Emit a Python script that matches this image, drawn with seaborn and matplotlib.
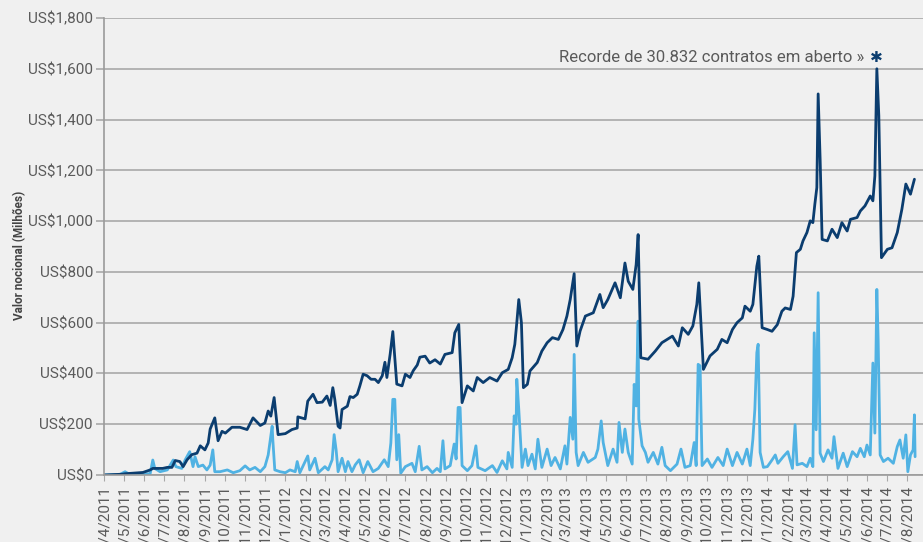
import pandas as pd
import matplotlib.pyplot as plt
import matplotlib.dates as mdates
import matplotlib.ticker as mticker
import seaborn as sns

START = pd.Timestamp('2011-04-01')

# days since 1/4/2011 and notional value (US$ millions)
dark_days = [0, 27, 32, 59, 70, 74, 89, 96, 103, 108,
             115, 120, 126, 133, 141, 146, 153, 158, 161, 168,
             171, 173, 179, 184, 194, 206, 217, 226, 237, 244,
             249, 253, 258, 264, 275, 285, 293, 294, 305, 309,
             317, 323, 331, 338, 343, 347, 350, 355, 358, 361,
             369, 373, 378, 384, 388, 393, 399, 405, 411, 416,
             422, 426, 429, 434, 438, 444, 452, 457, 464, 469,
             475, 479, 487, 494, 502, 510, 517, 528, 532, 538,
             543, 551, 560, 566, 575, 585, 596, 604, 613, 619,
             623, 626, 629, 633, 636, 642, 646, 657, 664, 672,
             680, 689, 696, 702, 707, 713, 717, 722, 730, 742,
             752, 757, 764, 775, 783, 790, 795, 802, 807, 810,
             814, 825, 836, 846, 854, 862, 871, 877, 886, 893,
             899, 902, 909, 919, 930, 937, 945, 953, 960, 968,
             972, 980, 984, 990, 993, 998, 1006, 1013, 1021, 1028,
             1033, 1041, 1045, 1050, 1056, 1060, 1066, 1071, 1075, 1078,
             1081, 1083, 1086, 1089, 1097, 1104, 1112, 1119, 1127, 1132,
             1142, 1147, 1154, 1162, 1166, 1169, 1172, 1175, 1179, 1188,
             1195, 1203, 1210, 1216, 1223, 1229]
dark_values = [0, 3, 5, 10, 20, 26, 26, 30, 30, 57,
               53, 33, 60, 80, 86, 115, 99, 126, 181, 225,
               172, 135, 172, 165, 188, 188, 179, 225, 195, 205,
               252, 232, 305, 159, 163, 179, 185, 229, 221, 291,
               318, 285, 287, 311, 274, 344, 298, 192, 185, 258,
               271, 309, 305, 318, 351, 397, 391, 377, 377, 364,
               391, 444, 384, 477, 565, 358, 351, 397, 384, 411,
               433, 464, 468, 441, 454, 437, 475, 482, 560, 593,
               285, 351, 331, 384, 364, 384, 370, 403, 416, 462,
               515, 600, 691, 600, 344, 357, 410, 443, 488, 521,
               541, 534, 573, 626, 691, 793, 508, 567, 626, 639,
               711, 659, 691, 757, 698, 835, 763, 731, 829, 947,
               462, 456, 488, 521, 534, 547, 508, 580, 554, 587,
               672, 757, 416, 469, 495, 534, 521, 573, 600, 619,
               665, 645, 672, 822, 862, 580, 573, 566, 592, 645,
               658, 652, 704, 876, 889, 922, 955, 1001, 994, 1067,
               1132, 1501, 1244, 928, 922, 968, 935, 994, 961, 1007,
               1014, 1040, 1060, 1099, 1080, 1178, 1600, 1415, 856, 889,
               895, 955, 1047, 1146, 1106, 1165]

light_days = [0, 24, 32, 39, 70, 74, 77, 85, 96, 105,
              109, 118, 123, 130, 135, 138, 143, 150, 156, 161,
              165, 168, 176, 187, 196, 206, 214, 221, 229, 237,
              244, 249, 255, 256, 259, 267, 275, 282, 290, 293,
              297, 309, 312, 320, 325, 335, 340, 346, 349, 352,
              355, 361, 366, 370, 376, 381, 387, 393, 400, 408,
              416, 425, 431, 435, 438, 441, 444, 447, 450, 457,
              467, 472, 478, 482, 490, 498, 505, 510, 514, 517,
              525, 531, 534, 537, 540, 543, 551, 558, 564, 567,
              578, 589, 596, 604, 611, 613, 619, 622, 625, 626,
              629, 634, 639, 643, 649, 654, 658, 664, 672, 678,
              684, 692, 699, 702, 707, 711, 713, 716, 719, 727,
              734, 745, 749, 754, 757, 764, 772, 778, 781, 786,
              790, 795, 801, 804, 807, 810, 811, 816, 821, 825,
              833, 840, 846, 851, 859, 869, 875, 881, 889, 895,
              898, 901, 904, 907, 915, 922, 931, 939, 945, 953,
              960, 968, 975, 980, 984, 987, 990, 992, 995, 1000,
              1006, 1013, 1018, 1022, 1030, 1037, 1044, 1048, 1051, 1059,
              1066, 1071, 1075, 1077, 1080, 1083, 1086, 1091, 1098, 1104,
              1107, 1113, 1121, 1127, 1135, 1142, 1147, 1153, 1157, 1162,
              1166, 1169, 1172, 1174, 1177, 1182, 1189, 1197, 1203, 1207,
              1212, 1216, 1219, 1223, 1227, 1229, 1230]
light_values = [0, 2, 13, 2, 5, 59, 26, 13, 20, 59,
                33, 26, 59, 92, 33, 72, 33, 39, 20, 39,
                99, 13, 13, 20, 9, 17, 36, 20, 30, 13,
                33, 79, 192, 139, 20, 13, 9, 20, 13, 53,
                9, 75, 20, 66, 9, 33, 20, 60, 159, 99,
                13, 66, 13, 53, 13, 40, 60, 9, 53, 13,
                26, 60, 33, 126, 298, 298, 60, 159, 7, 33,
                46, 13, 113, 20, 33, 9, 26, 13, 135, 24,
                37, 122, 63, 266, 266, 37, 17, 37, 115, 30,
                17, 37, 10, 56, 24, 89, 30, 233, 200, 377,
                259, 30, 102, 37, 82, 24, 141, 30, 102, 37,
                69, 24, 115, 43, 227, 141, 475, 89, 37, 89,
                50, 69, 102, 213, 128, 37, 102, 50, 207, 89,
                181, 89, 43, 357, 272, 606, 220, 115, 89, 50,
                89, 43, 109, 37, 17, 43, 102, 30, 37, 128,
                37, 436, 430, 37, 63, 30, 69, 37, 102, 37,
                89, 43, 102, 37, 141, 259, 482, 515, 89, 30,
                33, 59, 79, 46, 72, 92, 26, 198, 40, 46,
                33, 66, 33, 560, 178, 718, 86, 53, 99, 66,
                151, 26, 86, 33, 92, 72, 105, 72, 118, 79,
                441, 165, 731, 533, 79, 53, 66, 46, 112, 138,
                66, 158, 13, 79, 99, 237, 72]

record_day = 1172
record_label = 'Recorde de 30.832 contratos em aberto »'
y_label = 'Valor nocional (Milhões)'

DARK = '#0b3d6f'
LIGHT = '#50b2e3'
GREY_TXT = '#5a5a5a'
GRID = '#a8a8a8'

dark = pd.DataFrame({'date': START + pd.to_timedelta(dark_days, unit='D'), 'value': dark_values})
light = pd.DataFrame({'date': START + pd.to_timedelta(light_days, unit='D'), 'value': light_values})

sns.set_style('white', {'axes.facecolor': '#f0f0f0', 'figure.facecolor': '#f0f0f0'})
plt.rcParams['font.family'] = ['Roboto', 'DejaVu Sans']

fig = plt.figure(figsize=(9.23, 5.42), dpi=100)
ax = fig.add_axes([104 / 923, 67 / 542, 819 / 923, 457 / 542])

sns.lineplot(data=light, x='date', y='value', ax=ax, color=LIGHT, lw=2.0, estimator=None)
sns.lineplot(data=dark, x='date', y='value', ax=ax, color=DARK, lw=2.0, estimator=None)

ax.set_ylim(0, 1800)
ax.set_xlim(START, START + pd.Timedelta(days=1242))
ax.yaxis.set_major_locator(mticker.MultipleLocator(200))
ax.yaxis.set_major_formatter(mticker.FuncFormatter(lambda v, p: f'US${v:,.0f}'))
ax.xaxis.set_major_locator(mdates.MonthLocator(bymonthday=1))

def fmt_date(x, pos):
    d = mdates.num2date(x)
    return f'{d.day}/{d.month}/{d.year}'

ax.xaxis.set_major_formatter(mticker.FuncFormatter(fmt_date))
ax.tick_params(axis='x', rotation=90, labelsize=11, labelcolor=GREY_TXT,
               length=4, color=GRID, bottom=True, pad=3)
ax.tick_params(axis='y', labelsize=11, labelcolor=GREY_TXT, length=6,
               color=GRID, width=1.2, left=True, pad=2)
for lbl in ax.get_xticklabels():
    lbl.set_va('top')
    lbl.set_ha('center')

ax.yaxis.grid(True, color=GRID, lw=1.2)
ax.xaxis.grid(False)
ax.set_axisbelow(True)
for side in ['top', 'right']:
    ax.spines[side].set_visible(False)
for side in ['left', 'bottom']:
    ax.spines[side].set_color('#9a9a9a')
    ax.spines[side].set_linewidth(1.2)

ax.set_xlabel('')
ax.set_ylabel(y_label, fontsize=8.5, fontweight='bold', color='#444444')
ax.yaxis.set_label_coords(-0.095, 0.48)

rec_x = START + pd.Timedelta(days=record_day)
ax.text(rec_x, 1643, '\u2731', color=DARK, fontsize=11, ha='center', va='center',
        family=['DejaVu Sans'], fontweight='bold')
ax.annotate(record_label, xy=(rec_x, 1643), xytext=(-9, 0), textcoords='offset points',
            ha='right', va='center', fontsize=12, color=GREY_TXT)

fig.savefig('out.png', dpi=100, facecolor=fig.get_facecolor())
